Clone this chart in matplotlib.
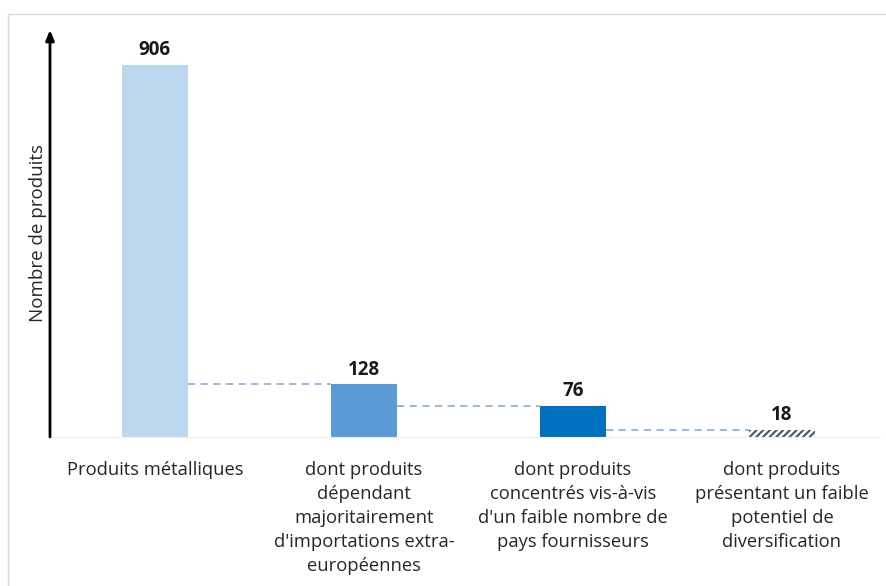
import matplotlib.pyplot as plt
from matplotlib.patches import Rectangle

plt.rcParams['font.family'] = ['Open Sans', 'DejaVu Sans']
plt.rcParams['hatch.linewidth'] = 1.5

# nombre de produits par catégorie
categories = [
    "Produits métalliques",
    "dont produits\ndépendant\nmajoritairement\nd'importations extra-\neuropéennes",
    "dont produits\nconcentrés vis-à-vis\nd'un faible nombre de\npays fournisseurs",
    "dont produits\nprésentant un faible\npotentiel de\ndiversification",
]
valeurs = [906, 128, 76, 18]
couleurs = ["#bdd7ee", "#5b9bd5", "#0070c0", "none"]

fig = plt.figure(figsize=(8.87, 5.86), dpi=100)
# cadre gris clair autour du graphique
fig.patches.append(Rectangle((8 / 887, -0.01), 1.0, 1 - 14 / 586 + 0.01,
                             transform=fig.transFigure, fill=False,
                             edgecolor="#d9d9d9", lw=1))
ax = fig.add_axes([50 / 887, 149 / 586, 830 / 887, 407 / 586])

x = list(range(len(valeurs)))
largeur = 0.316
for i, (v, c) in enumerate(zip(valeurs, couleurs)):
    if c == "none":
        ax.bar(i, v, largeur, color="none", edgecolor="#44546a", hatch="/////", lw=0)
    else:
        ax.bar(i, v, largeur, color=c, lw=0)
    ax.text(i, v + 12, str(v), ha="center", va="bottom", fontsize=13.5,
            fontweight="bold", color="#1a1a1a")

# lignes pointillées reliant chaque barre à la suivante
for i in range(len(valeurs) - 1):
    ax.plot([i + largeur / 2, i + 1 - largeur / 2], [valeurs[i + 1]] * 2,
            ls=(0, (4, 3)), color="#8eb4dc", lw=1.3)

ax.set_xlim(-0.502, 3.469)
ax.set_ylim(0, 991)
ax.set_xticks(x)
ax.set_xticklabels(categories, fontsize=13.2, color="#262626", linespacing=1.43, va="top")
ax.tick_params(axis="x", length=0, pad=17)
ax.set_yticks([])
for s in ["top", "right", "left"]:
    ax.spines[s].set_visible(False)
ax.spines["bottom"].set_color("#eeeeee")

# axe vertical avec flèche
ax.annotate("", xy=(0, 1), xytext=(0, 0), xycoords="axes fraction",
            arrowprops=dict(arrowstyle="-|>,head_width=0.25,head_length=0.6",
                            color="black", lw=2, shrinkA=0, shrinkB=0))
ax.set_ylabel("Nombre de produits", fontsize=13.5, labelpad=2, color="#262626")

fig.savefig("out.png", dpi=100, facecolor="white")
